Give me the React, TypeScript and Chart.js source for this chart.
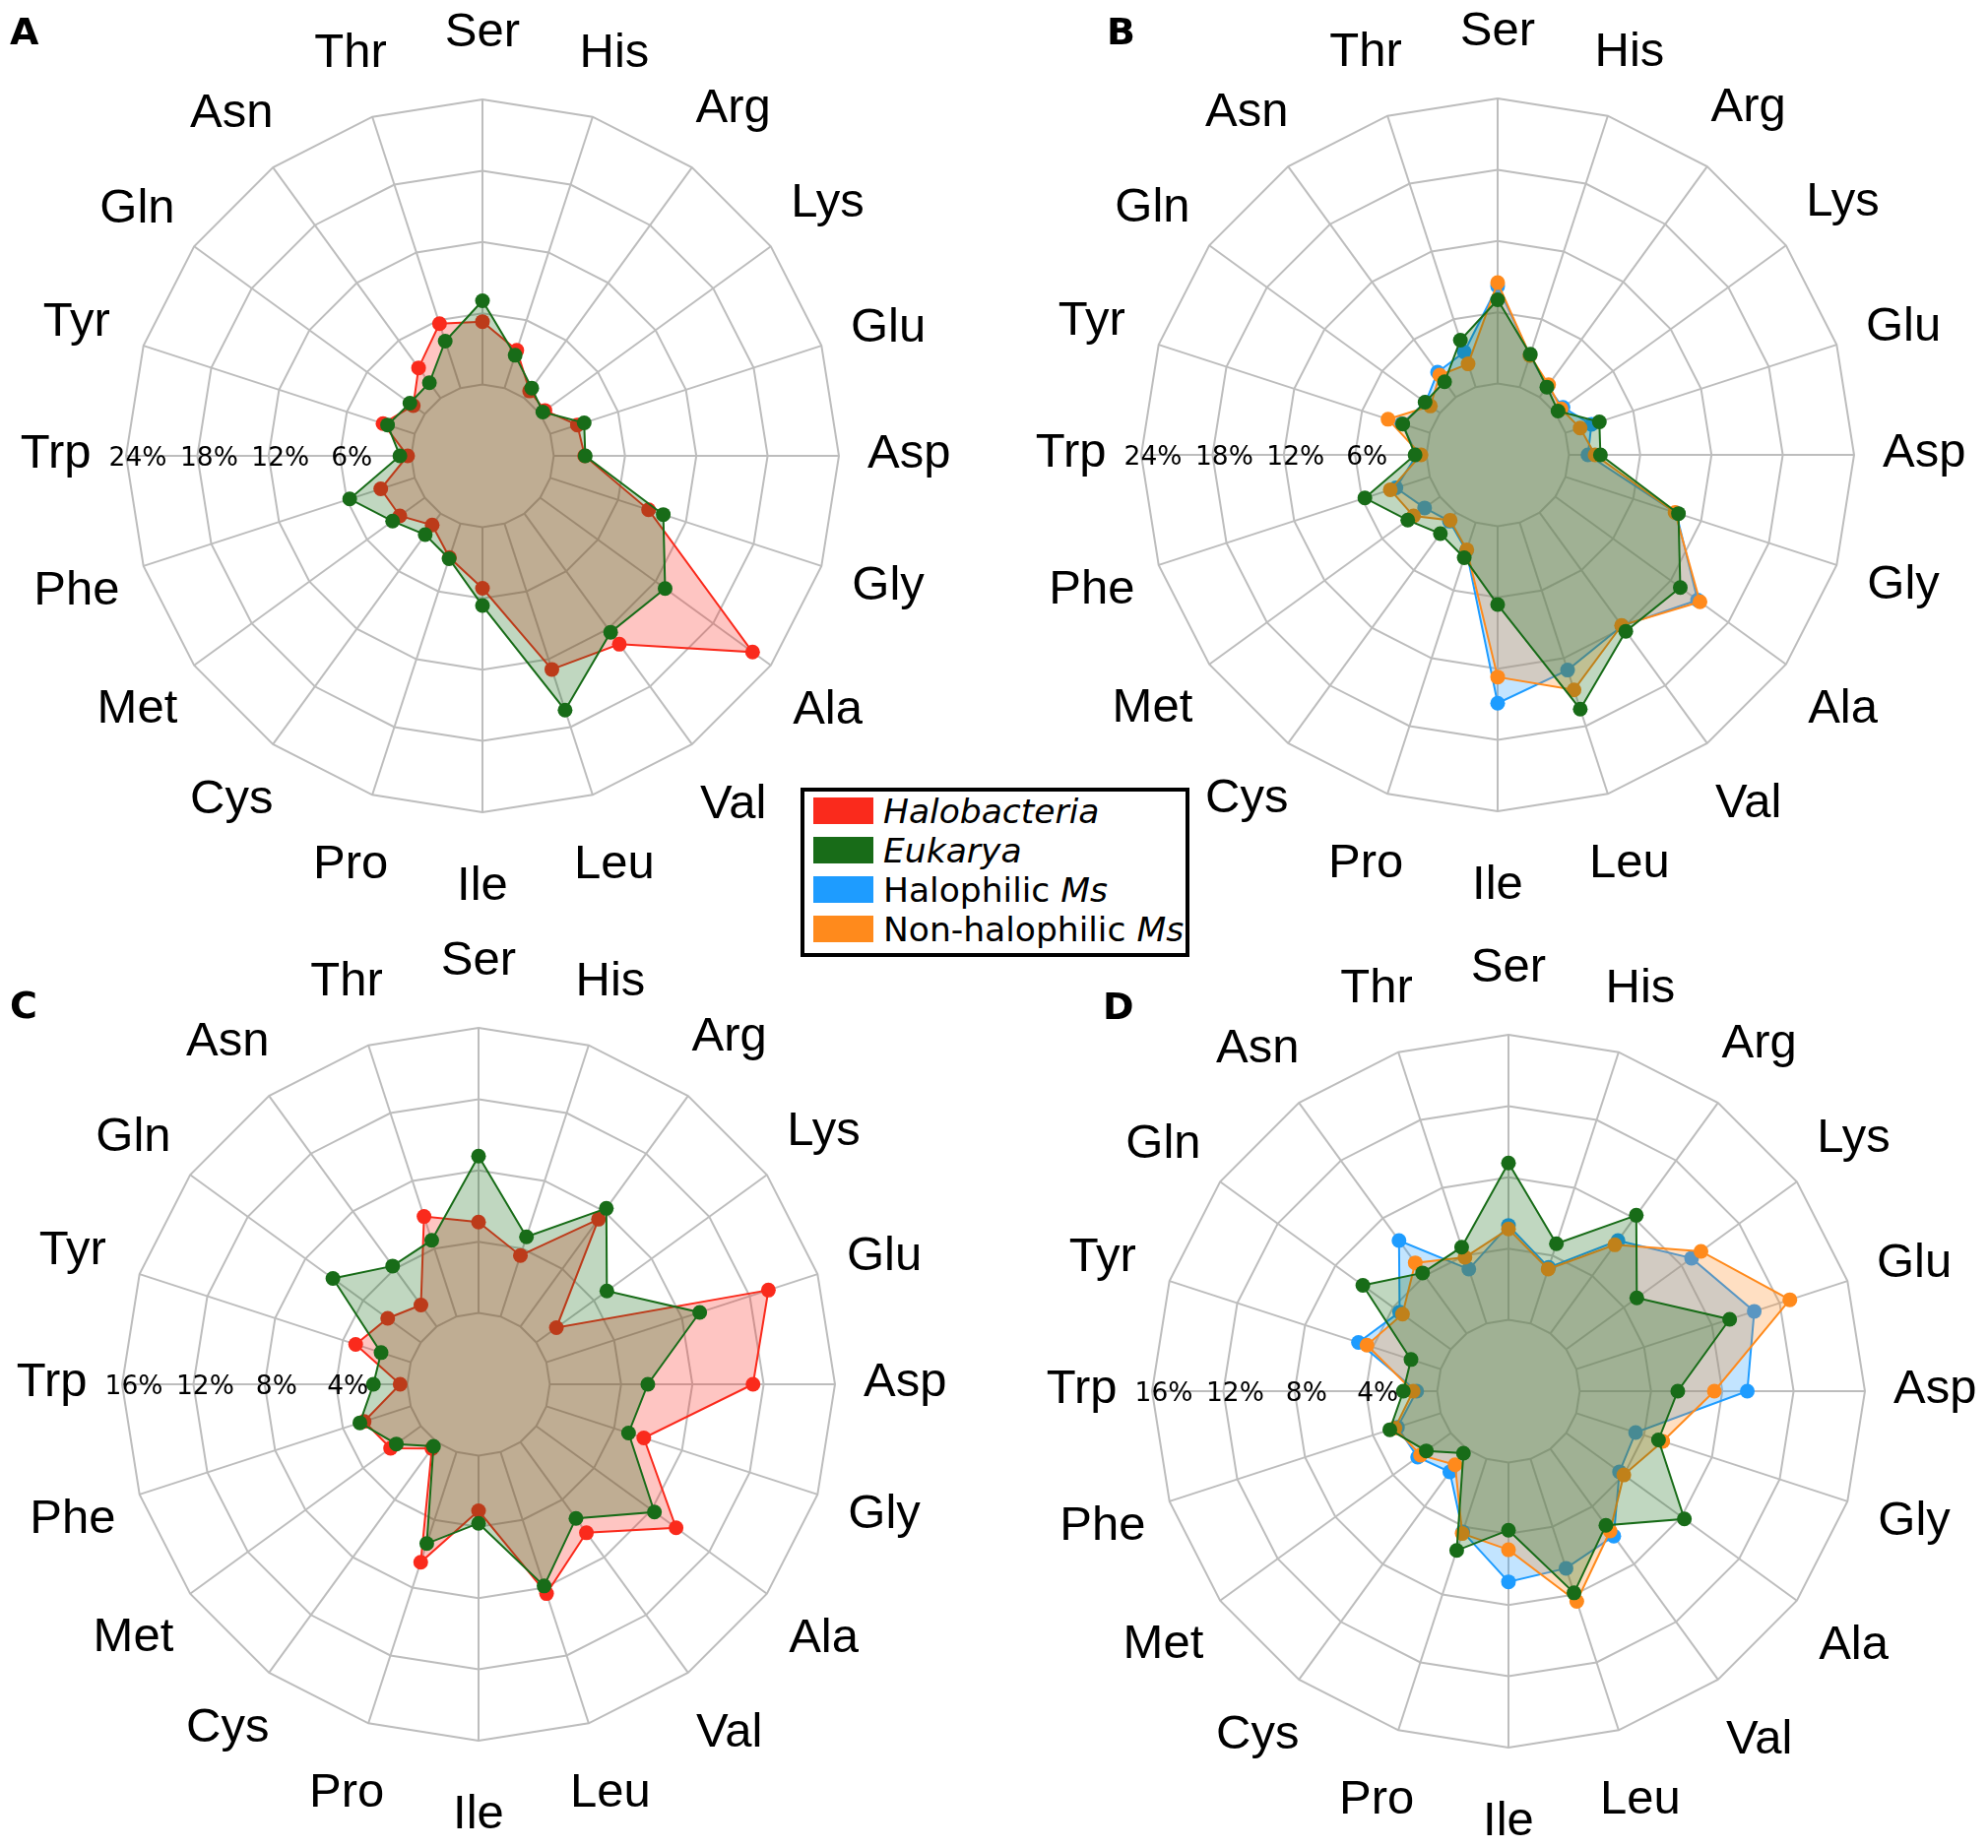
import { useEffect, useRef } from "react";
import { Chart, registerables } from "chart.js";

Chart.register(...registerables);

const aminoAcids = [
  "Ser", "His", "Arg", "Lys", "Glu", "Asp", "Gly", "Ala", "Val", "Leu",
  "Ile", "Pro", "Cys", "Met", "Phe", "Trp", "Tyr", "Gln", "Asn", "Thr",
];

// panels A and B (%)
const halobacteriaA = [5.3, 3.35, 0.75, 0.5, 2.4, 2.6, 8.7, 22.1, 13.6, 12.9, 5.15, 3.0, 1.2, 2.6, 3.0, 0.3, 2.8, 1.2, 3.15, 5.7];
const eukaryaAB = [7.05, 2.9, 1.05, 0.28, 3.0, 2.65, 10.0, 13.0, 12.35, 16.5, 6.6, 3.1, 2.2, 3.35, 5.75, 0.95, 2.4, 1.55, 1.6, 4.15];
const halophilicB = [8.2, 2.8, 1.1, 0.8, 2.3, 1.6, 9.8, 14.8, 11.8, 13.05, 14.9, 2.5, 0.9, 1.6, 3.0, 0.8, 2.5, 1.5, 2.6, 3.1];
const nonHalophilicB = [8.5, 2.8, 1.3, 0.6, 1.3, 2.2, 9.7, 15.05, 11.75, 14.8, 12.7, 2.4, 0.8, 2.75, 3.5, 0.45, 3.7, 1.0, 2.3, 2.05];

// panels C and D (%)
const halobacteriaC = [5.1, 3.6, 7.45, 1.4, 13.1, 11.4, 5.75, 9.7, 6.3, 8.35, 3.1, 6.5, 0.45, 2.1, 2.75, 0.4, 3.25, 2.3, 1.5, 5.9];
const eukaryaCD = [8.8, 4.7, 8.2, 4.9, 9.05, 5.5, 4.85, 8.2, 5.3, 7.9, 3.8, 5.4, 0.3, 1.7, 3.0, 1.9, 1.75, 6.1, 4.2, 4.5];
const halophilicD = [5.3, 3.3, 6.45, 8.7, 10.5, 9.4, 3.5, 3.7, 6.05, 6.45, 6.7, 4.3, 1.6, 2.3, 2.55, 1.15, 4.85, 3.55, 6.45, 3.2];
const nonHalophilicD = [5.1, 3.2, 6.15, 9.35, 12.6, 7.55, 5.1, 4.0, 5.7, 8.4, 4.9, 4.4, 1.1, 2.1, 2.7, 1.35, 4.35, 3.35, 4.9, 3.9];

const ticksAB = [6, 12, 18, 24];
const ticksCD = [4, 8, 12, 16];

const RED = "#fa2a1c";
const GREEN = "#186c18";
const BLUE = "#1e9cff";
const ORANGE = "#ff8a1c";
const GRID = "#bdbdbd";

const fillOf = (hex: string) => {
  const r = parseInt(hex.slice(1, 3), 16);
  const g = parseInt(hex.slice(3, 5), 16);
  const b = parseInt(hex.slice(5, 7), 16);
  return `rgba(${r},${g},${b},0.27)`;
};

interface Series {
  label: string;
  data: number[];
  color: string;
  order: number;
}

const W = 980;
const H = 924;
const CX = 490;
const CY = 462;
const R = 362;

// draw text centred on its ink box, like matplotlib does
const centredText = (c: CanvasRenderingContext2D, text: string, x: number, y: number) => {
  const m = c.measureText(text);
  const asc = m.actualBoundingBoxAscent;
  const desc = m.actualBoundingBoxDescent;
  c.fillText(text, x, y + (asc - desc) / 2);
};

interface PanelProps {
  left: number;
  top: number;
  series: Series[];
  ticks: number[];
}

const RadarPanel: React.FC<PanelProps> = ({ left, top, series, ticks }) => {
  const canvasRef = useRef<HTMLCanvasElement | null>(null);

  useEffect(() => {
    if (!canvasRef.current) return;
    const ctx = canvasRef.current.getContext("2d");
    if (!ctx) return;

    const step = ticks[0];
    const maxV = ticks[ticks.length - 1];
    const trpIndex = aminoAcids.indexOf("Trp");

    const textPlugin = {
      id: "radarText",
      beforeDatasetsDraw(chart: any) {
        // spokes run from the 0 ring out to the edge
        const scale = chart.scales.r;
        const c = chart.ctx;
        c.save();
        c.strokeStyle = GRID;
        c.lineWidth = 2;
        const r0 = scale.getDistanceFromCenterForValue(0);
        const r1 = scale.getDistanceFromCenterForValue(maxV);
        aminoAcids.forEach((_, i) => {
          const a = scale.getPointPosition(i, r0);
          const b = scale.getPointPosition(i, r1);
          c.beginPath();
          c.moveTo(a.x, a.y);
          c.lineTo(b.x, b.y);
          c.stroke();
        });
        c.restore();
      },
      afterDraw(chart: any) {
        const scale = chart.scales.r;
        const c = chart.ctx;
        c.save();
        c.fillStyle = "#000";
        c.textAlign = "center";
        c.textBaseline = "alphabetic";
        c.font = '49px "Liberation Sans", Arial, sans-serif';
        aminoAcids.forEach((lab, i) => {
          const p = scale.getPointPosition(i, scale.drawingArea * 1.197);
          centredText(c, lab, p.x, p.y);
        });
        c.font = '26.5px "DejaVu Sans", sans-serif';
        ticks.forEach((v) => {
          const p = scale.getPointPosition(trpIndex, scale.getDistanceFromCenterForValue(v) - 12);
          centredText(c, `${v}%`, p.x, p.y);
        });
        c.restore();
      },
    };

    const chartInstance = new Chart(ctx, {
      type: "radar",
      data: {
        labels: aminoAcids,
        datasets: series.map((s) => ({
          label: s.label,
          data: s.data,
          order: s.order,
          borderColor: s.color,
          backgroundColor: fillOf(s.color),
          borderWidth: 2,
          fill: "start",
          pointRadius: 7.5,
          pointBorderWidth: 0,
          pointBackgroundColor: s.color,
          pointBorderColor: s.color,
          tension: 0,
        })),
      },
      options: {
        animation: false,
        responsive: false,
        maintainAspectRatio: false,
        layout: { padding: 0 },
        plugins: {
          legend: { display: false },
          tooltip: { enabled: false },
        },
        scales: {
          r: {
            min: -step,
            max: maxV,
            ticks: { stepSize: step, display: false },
            grid: { color: GRID, lineWidth: 2, circular: false },
            angleLines: { display: false },
            pointLabels: { display: false },
            afterFit: (scale: any) => {
              scale.xCenter = CX;
              scale.yCenter = CY;
              scale.drawingArea = R;
            },
          },
        },
      } as any,
      plugins: [textPlugin],
    });

    return () => {
      chartInstance.destroy();
    };
  }, [series, ticks]);

  return (
    <canvas
      ref={canvasRef}
      width={W}
      height={H}
      style={{ position: "absolute", left, top, width: W, height: H }}
    ></canvas>
  );
};

const panelA: Series[] = [
  { label: "Halobacteria", data: halobacteriaA, color: RED, order: 1 },
  { label: "Eukarya", data: eukaryaAB, color: GREEN, order: 0 },
];
const panelB: Series[] = [
  { label: "Eukarya", data: eukaryaAB, color: GREEN, order: 0 },
  { label: "Halophilic Ms", data: halophilicB, color: BLUE, order: 2 },
  { label: "Non-halophilic Ms", data: nonHalophilicB, color: ORANGE, order: 1 },
];
const panelC: Series[] = [
  { label: "Halobacteria", data: halobacteriaC, color: RED, order: 1 },
  { label: "Eukarya", data: eukaryaCD, color: GREEN, order: 0 },
];
const panelD: Series[] = [
  { label: "Eukarya", data: eukaryaCD, color: GREEN, order: 0 },
  { label: "Halophilic Ms", data: halophilicD, color: BLUE, order: 2 },
  { label: "Non-halophilic Ms", data: nonHalophilicD, color: ORANGE, order: 1 },
];

const letterStyle: React.CSSProperties = {
  position: "absolute",
  fontFamily: '"DejaVu Sans", sans-serif',
  fontWeight: "bold",
  fontSize: 38,
  lineHeight: "38px",
  zIndex: 2,
};

const legendItems = [
  { color: RED, text: "", italic: "Halobacteria" },
  { color: GREEN, text: "", italic: "Eukarya" },
  { color: BLUE, text: "Halophilic ", italic: "Ms" },
  { color: ORANGE, text: "Non-halophilic ", italic: "Ms" },
];

export default function App() {
  return (
    <div
      style={{
        position: "absolute",
        left: 0,
        top: 0,
        width: 2019,
        height: 1877,
        overflow: "hidden",
        background: "#fff",
      }}
    >
      <RadarPanel left={0} top={1} series={panelA} ticks={ticksAB} />
      <RadarPanel left={1031} top={0} series={panelB} ticks={ticksAB} />
      <RadarPanel left={-4} top={944} series={panelC} ticks={ticksCD} />
      <RadarPanel left={1042} top={951} series={panelD} ticks={ticksCD} />

      <div style={{ ...letterStyle, left: 10, top: 13 }}>A</div>
      <div style={{ ...letterStyle, left: 1124, top: 13 }}>B</div>
      <div style={{ ...letterStyle, left: 10, top: 1002 }}>C</div>
      <div style={{ ...letterStyle, left: 1120, top: 1003 }}>D</div>

      <div
        style={{
          position: "absolute",
          left: 813,
          top: 800,
          width: 395,
          height: 172,
          boxSizing: "border-box",
          border: "4px solid #000",
          background: "#fff",
          zIndex: 3,
          fontFamily: '"DejaVu Sans", sans-serif',
          fontSize: 34.5,
          lineHeight: "34.5px",
          color: "#000",
        }}
      >
        {legendItems.map((item, i) => (
          <div key={i}>
            <div
              style={{
                position: "absolute",
                left: 9,
                top: 6 + 40 * i,
                width: 61,
                height: 27,
                background: item.color,
              }}
            />
            <div style={{ position: "absolute", left: 80, top: 3 + 40 * i, whiteSpace: "nowrap" }}>
              {item.text}
              <i>{item.italic}</i>
            </div>
          </div>
        ))}
      </div>
    </div>
  );
}
